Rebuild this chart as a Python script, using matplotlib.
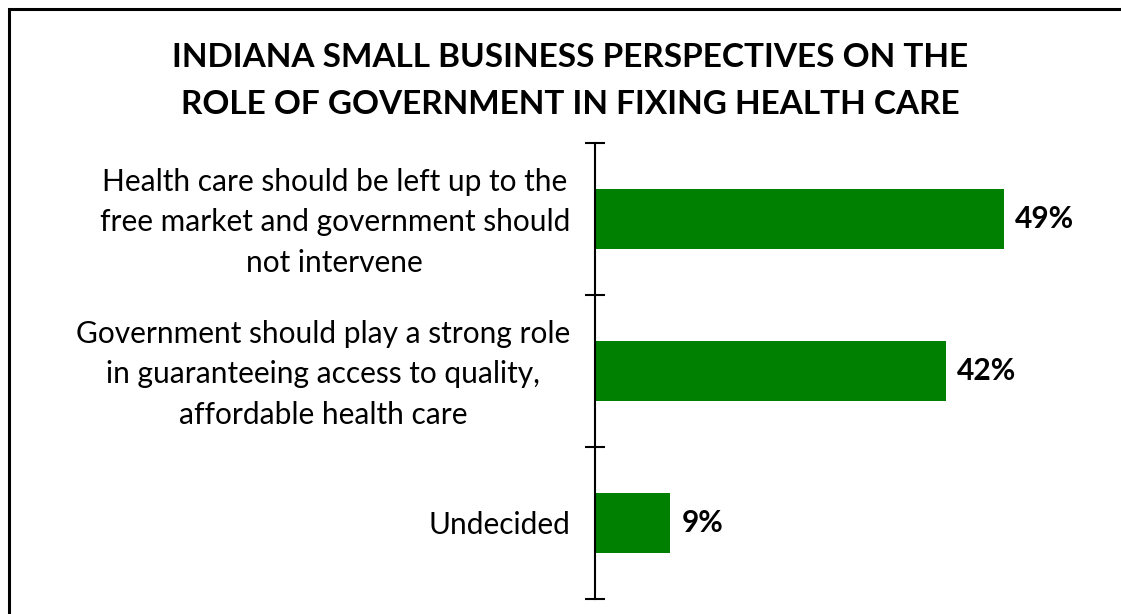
import matplotlib.pyplot as plt
import matplotlib.transforms as mtransforms
from matplotlib.patches import Rectangle
from matplotlib.ticker import FixedLocator

plt.rcParams['font.family'] = ['Lato', 'DejaVu Sans']

title = "INDIANA SMALL BUSINESS PERSPECTIVES ON THE\nROLE OF GOVERNMENT IN FIXING HEALTH CARE"
categories = [
    "Health care should be left up to the\nfree market and government should\nnot intervene",
    "Government should play a strong role\nin guaranteeing access to quality,\naffordable health care",
    "Undecided",
]
values = [49, 42, 9]
bar_color = "#008000"

fig = plt.figure(figsize=(11.21, 6.14), dpi=100)

# outer frame (runs off the right and bottom edges)
fig.patches.append(Rectangle((8.5 / 1121, -0.1), 1.2, 1.1 - 9.5 / 614,
                             transform=fig.transFigure, fill=False,
                             edgecolor="black", linewidth=2.2))

fig.text(0.5085, 0.868, title, ha="center", va="center", fontsize=24,
         fontweight="bold", linespacing=1.75)

ax = fig.add_axes([595 / 1121, 1 - 599 / 614, 501 / 1121, 456 / 614])
pos = list(range(len(categories)))
bars = ax.barh(pos, values, height=0.4, color=bar_color)

ax.set_xlim(0, 60)
ax.set_ylim(len(categories) - 0.5, -0.5)
ax.set_yticks(pos)
ax.set_yticklabels(categories, fontsize=21.5, multialignment="center",
                   linespacing=1.55)
ax.tick_params(axis="y", which="major", length=0, pad=18)
ax.yaxis.set_minor_locator(FixedLocator([p - 0.5 for p in pos] + [pos[-1] + 0.5]))
ax.tick_params(axis="y", which="minor", length=15, width=1.5,
               direction="inout")
ax.set_xticks([])
for side in ["top", "right", "bottom"]:
    ax.spines[side].set_visible(False)
ax.spines["left"].set_linewidth(1.5)

# lift the multi-line labels a little so they sit level with the bars
shift = mtransforms.ScaledTranslation(0, 4 / 72, fig.dpi_scale_trans)
for lbl, cat in zip(ax.get_yticklabels(), categories):
    if "\n" in cat:
        lbl.set_transform(lbl.get_transform() + shift)

for b, v in zip(bars, values):
    ax.annotate(f"{v}%", (v, b.get_y() + b.get_height() / 2),
                xytext=(8, 0), textcoords="offset points",
                ha="left", va="center", fontsize=21.5, fontweight="bold")

fig.savefig("out.png", dpi=100)
